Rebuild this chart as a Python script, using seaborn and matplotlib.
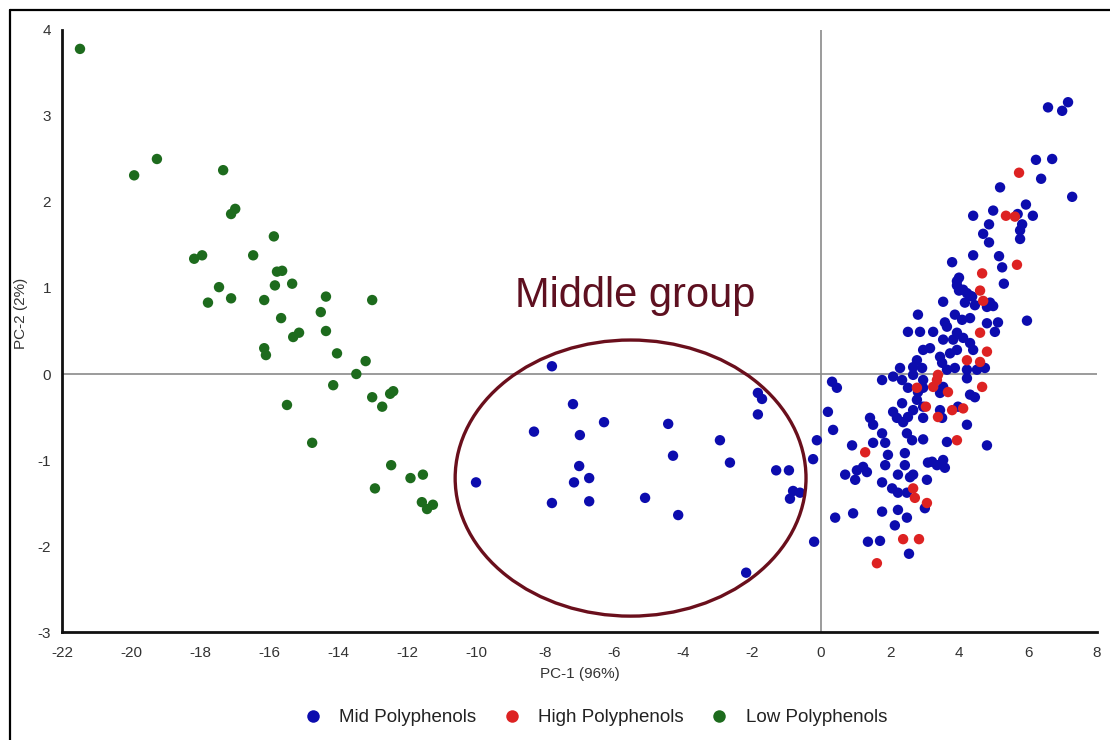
import numpy as np
import pandas as pd
import matplotlib
matplotlib.use("Agg")
import matplotlib.pyplot as plt
from matplotlib.patches import Ellipse
from matplotlib.lines import Line2D
from matplotlib.ticker import MultipleLocator
import seaborn as sns

# PCA scores (PC-1, PC-2) per sample group
mid_x = [
    6.58, 6.99, 7.16, 6.23, 6.70, 6.38, 7.28, 5.19, 5.94, 6.14, 5.70, 4.99, 4.41, 4.87,
    5.83, 5.77, 4.70, 4.87, 5.77, 4.41, 5.16, 5.25, 3.80, 5.30, 3.94, 4.00, 4.23, 3.54,
    4.99, 5.97, 4.17, 4.46, 4.81, 2.81, 3.59, 3.88, 4.09, 4.32, 4.81, 5.13, 2.52, 2.87,
    3.25, 3.65, 3.94, 5.04, 3.54, 3.83, 4.12, 4.32, 2.96, 3.16, 3.45, 3.74, 3.94, 4.41,
    2.78, 2.67, 2.93, 3.51, 3.65, 3.88, 4.23, 4.52, 4.75, 2.29, 2.09, 2.35, 2.67, 1.77,
    2.96, 3.54, 4.23, 2.52, 2.81, 2.96, 2.78, 2.35, 3.45, 4.32, 4.46, 2.67, 2.96, 3.45,
    3.51, 3.97, 2.20, 2.38, 2.52, 2.96, 4.23, 0.32, 0.46, 0.20, 0.35, 1.42, 1.51, 2.09,
    3.65, 4.81, 2.49, 2.64, 2.96, 1.77, 1.51, 1.86, 0.90, 1.94, 2.43, 3.10, 3.36, 3.54,
    3.59, 1.22, 1.33, 1.04, 0.70, 0.99, 1.77, 2.23, 2.58, 2.06, 2.23, 3.07, 3.01, 0.93,
    0.41, 1.77, 2.23, 2.49, 2.14, 1.36, 1.71, 2.55, 4.00, 4.38, 1.86, 2.43, 2.67, 2.49,
    3.22, 3.94, 4.12, 4.32, 4.90,
    # middle group
    -7.80, -7.19, -8.32, -6.99, -6.29, -4.43, -4.29, -7.01, -7.16, -6.72, -10.00, -7.80,
    -6.72, -5.10, -4.14, -2.93, -2.64, -1.83, -1.71, -1.83, -1.30, -0.93, -0.81, -0.61,
    -0.90, -0.23, -0.12, -0.20, -2.17,
]
mid_y = [
    3.10, 3.06, 3.16, 2.49, 2.50, 2.27, 2.06, 2.17, 1.97, 1.84, 1.86, 1.90, 1.84, 1.74,
    1.74, 1.67, 1.63, 1.53, 1.57, 1.38, 1.37, 1.24, 1.30, 1.05, 1.08, 0.97, 0.94, 0.84,
    0.79, 0.62, 0.83, 0.80, 0.78, 0.69, 0.60, 0.69, 0.63, 0.65, 0.59, 0.60, 0.49, 0.49,
    0.49, 0.55, 0.48, 0.49, 0.40, 0.40, 0.42, 0.36, 0.28, 0.30, 0.20, 0.24, 0.28, 0.28,
    0.16, 0.08, 0.07, 0.13, 0.05, 0.07, 0.05, 0.05, 0.07, 0.07, -0.03, -0.07, -0.01, -0.07,
    -0.07, -0.15, -0.05, -0.16, -0.21, -0.16, -0.30, -0.34, -0.22, -0.24, -0.27, -0.42, -0.38, -0.42,
    -0.51, -0.38, -0.51, -0.56, -0.50, -0.51, -0.59, -0.09, -0.16, -0.44, -0.65, -0.51, -0.59, -0.44,
    -0.79, -0.83, -0.69, -0.77, -0.76, -0.69, -0.80, -0.80, -0.83, -0.94, -0.92, -1.03, -1.06, -1.00,
    -1.09, -1.08, -1.14, -1.12, -1.17, -1.23, -1.26, -1.17, -1.20, -1.33, -1.38, -1.23, -1.56, -1.62,
    -1.67, -1.60, -1.58, -1.67, -1.76, -1.95, -1.94, -2.09, 1.12, 0.90, -1.06, -1.06, -1.17, -1.38,
    -1.02, 1.03, 0.98, 0.91, 0.83,
    # middle group
    0.09, -0.35, -0.67, -0.71, -0.56, -0.58, -0.95, -1.07, -1.26, -1.21, -1.26, -1.50,
    -1.48, -1.44, -1.64, -0.77, -1.03, -0.22, -0.29, -0.47, -1.12, -1.12, -1.36, -1.38,
    -1.45, -0.99, -0.77, -1.95, -2.31,
]

high_x = [5.74, 5.36, 5.62, 5.68, 4.67, 4.61, 4.70, 4.61, 4.81, 4.61, 4.23, 4.67, 3.36, 3.25,
          3.39, 2.78, 3.68, 3.04, 3.39, 3.80, 4.12, 3.94, 1.28, 2.67, 2.72, 3.07, 2.38, 2.84, 1.62]
high_y = [2.34, 1.84, 1.83, 1.27, 1.17, 0.97, 0.85, 0.48, 0.26, 0.14, 0.16, -0.15, -0.07, -0.15,
          -0.01, -0.16, -0.21, -0.38, -0.50, -0.42, -0.40, -0.77, -0.91, -1.33, -1.44, -1.50, -1.92, -1.92, -2.20]

low_x = [-21.48, -19.91, -19.25, -17.33, -17.10, -16.98, -15.86, -18.17, -17.94, -16.46, -15.77,
         -15.62, -17.45, -15.83, -15.33, -17.77, -17.10, -16.14, -14.35, -13.01, -15.65, -14.50,
         -14.35, -15.30, -15.13, -16.14, -16.09, -14.03, -13.20, -13.47, -14.14, -13.01, -12.72,
         -12.49, -12.40, -15.48, -14.75, -12.46, -12.93, -11.90, -11.54, -11.57, -11.42, -11.25]
low_y = [3.78, 2.31, 2.50, 2.37, 1.86, 1.92, 1.60, 1.34, 1.38, 1.38, 1.19, 1.20, 1.01, 1.03, 1.05,
         0.83, 0.88, 0.86, 0.90, 0.86, 0.65, 0.72, 0.50, 0.43, 0.48, 0.30, 0.22, 0.24, 0.15, 0.00,
         -0.13, -0.27, -0.38, -0.23, -0.20, -0.36, -0.80, -1.06, -1.33, -1.21, -1.17, -1.49, -1.57, -1.52]

groups = ["Mid Polyphenols", "High Polyphenols", "Low Polyphenols"]
colors = ["#0c0cae", "#dd2222", "#1d6b1d"]

df = pd.concat([
    pd.DataFrame({"PC1": mid_x, "PC2": mid_y, "group": groups[0]}),
    pd.DataFrame({"PC1": high_x, "PC2": high_y, "group": groups[1]}),
    pd.DataFrame({"PC1": low_x, "PC2": low_y, "group": groups[2]}),
], ignore_index=True)

sns.set_style("white")
plt.rcParams["font.family"] = ["Liberation Sans", "DejaVu Sans"]
plt.rcParams["axes.unicode_minus"] = False

fig = plt.figure(figsize=(11.1, 7.4), dpi=100)
ax = fig.add_axes([0.0559, 0.1459, 0.9324, 0.8136])

# zero reference lines
ax.axhline(0, color="#8a8a8a", lw=1.2, zorder=1)
ax.axvline(0, color="#8a8a8a", lw=1.2, zorder=1)

sns.scatterplot(data=df, x="PC1", y="PC2", hue="group", hue_order=groups,
                palette=colors, s=56, edgecolor="none", linewidth=0,
                legend=False, ax=ax, zorder=3)

ax.set_xlim(-22, 8)
ax.set_ylim(-3, 4)
ax.xaxis.set_major_locator(MultipleLocator(2))
ax.xaxis.set_minor_locator(MultipleLocator(1))
ax.yaxis.set_major_locator(MultipleLocator(1))
ax.yaxis.set_minor_locator(MultipleLocator(0.5))
ax.tick_params(axis="both", which="major", direction="out", length=4, width=1.2,
               color="#222222", labelsize=11, labelcolor="#333333", pad=4)
ax.tick_params(axis="both", which="minor", direction="out", length=3, width=1.0, color="#444444")
ax.tick_params(axis="x", which="both", direction="inout")
ax.tick_params(axis="x", which="major", pad=8)

for side in ["top", "right"]:
    ax.spines[side].set_visible(False)
for side in ["left", "bottom"]:
    ax.spines[side].set_color("#111111")
    ax.spines[side].set_linewidth(2.0)

ax.set_xlabel("PC-1 (96%)", fontsize=11, color="#333333", labelpad=5)
ax.set_ylabel("PC-2 (2%)", fontsize=11, color="#333333")
ax.yaxis.set_label_coords(-0.033, 0.53)

# middle group highlight
ax.add_patch(Ellipse((-5.52, -1.21), 10.17, 3.21, fill=False,
                     edgecolor="#6a0f1c", lw=2.4, zorder=4))
ax.text(-8.87, 0.78, "Middle group", fontsize=30, color="#5e1020",
        ha="left", va="baseline", zorder=5)

handles = [Line2D([0], [0], marker="o", linestyle="none", markersize=9,
                  markerfacecolor=c, markeredgecolor="none") for c in colors]
fig.legend(handles, groups, loc="center", bbox_to_anchor=(0.532, 0.030), ncol=3,
           frameon=False, fontsize=13.5, handletextpad=0.4, columnspacing=0.9,
           labelcolor="#222222")

# outer frame on the left and top edges
fig.add_artist(Line2D([0.009, 0.009], [0.0, 0.987], transform=fig.transFigure,
                      color="black", lw=1.6))
fig.add_artist(Line2D([0.009, 1.0], [0.987, 0.987], transform=fig.transFigure,
                      color="black", lw=1.6))

fig.savefig("out.png", dpi=100, facecolor="white")
